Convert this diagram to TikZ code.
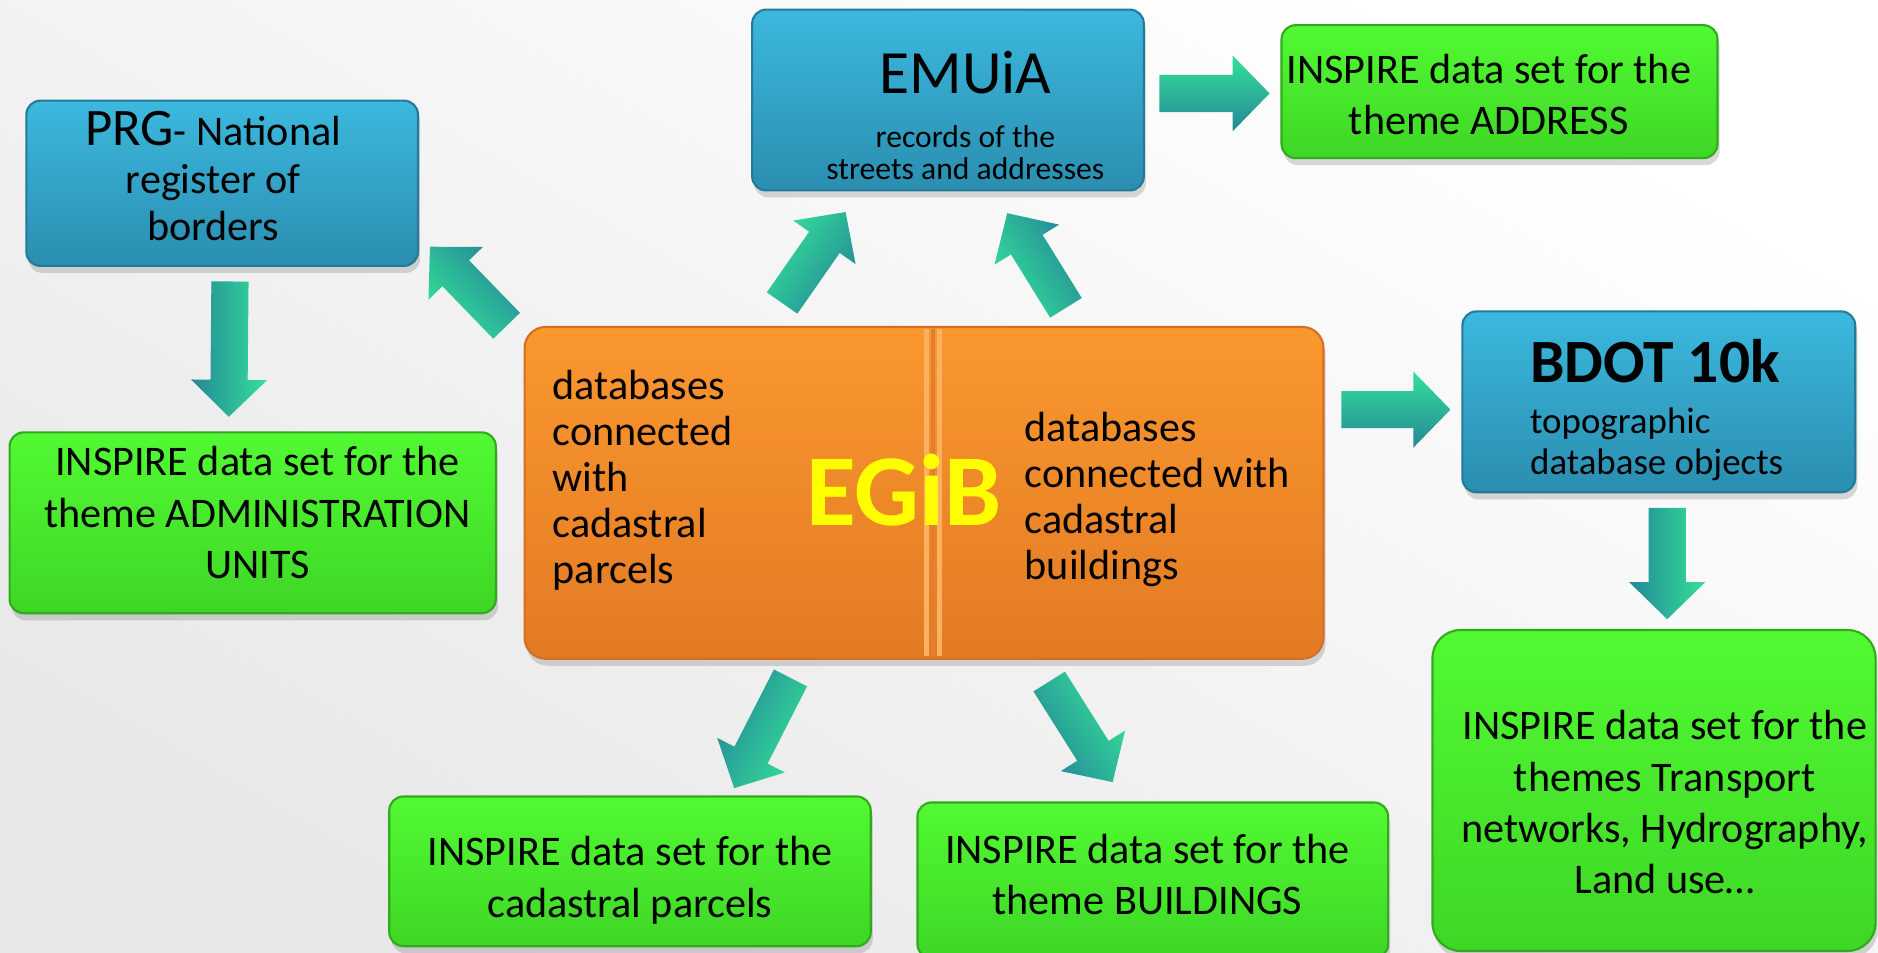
\documentclass[tikz,border=0pt]{standalone}
\usepackage{fontspec}
\setmainfont{Carlito}
\usetikzlibrary{calc,fit,shadows}

\definecolor{boxblue}{RGB}{60,184,222}
\definecolor{boxbluedark}{RGB}{42,142,176}
\definecolor{blueedge}{RGB}{36,122,152}
\definecolor{boxgreen}{RGB}{82,250,50}
\definecolor{boxgreendark}{RGB}{62,214,38}
\definecolor{greenedge}{RGB}{50,170,30}
\definecolor{boxorange}{RGB}{250,152,46}
\definecolor{boxorangedark}{RGB}{226,122,36}
\definecolor{orangeedge}{RGB}{214,110,34}
\definecolor{dividerlight}{RGB}{252,176,96}
\definecolor{dividerdark}{RGB}{222,128,44}
\definecolor{arrowlight}{RGB}{52,224,152}
\definecolor{arrowdark}{RGB}{36,136,152}
\definecolor{egibyellow}{RGB}{255,255,0}

\tikzset{
  panel/.style={rounded corners=4pt, inner sep=0pt, line width=0.6pt,
    drop shadow={shadow xshift=0.6pt, shadow yshift=-2pt, opacity=0.3}},
  bluebox/.style={panel, draw=blueedge, top color=boxblue, bottom color=boxbluedark},
  greenbox/.style={panel, draw=greenedge, top color=boxgreen, bottom color=boxgreendark},
  orangebox/.style={panel, rounded corners=6pt, draw=orangeedge, top color=boxorange, bottom color=boxorangedark},
  boxtext/.style={font=\fontsize{12}{14.6}\selectfont, align=center, inner sep=0pt},
  sidetext/.style={font=\fontsize{12}{13.1}\selectfont, align=left, inner sep=0pt, anchor=base west},
  arrowfill/.style={top color=arrowlight, bottom color=arrowdark},
}

% fat arrow: start, tip, direction of the arrow
\newcommand{\fatarrow}[3]{%
  \coordinate (neck) at ($(#2)!0.37cm!(#1)$);
  \path[arrowfill, shading angle=#3]
    ($(#1)!0.186cm!-90:(#2)$) -- ($(neck)!0.186cm!-90:(#2)$) -- ($(neck)!0.38cm!-90:(#2)$)
    -- (#2) -- ($(neck)!0.38cm!90:(#2)$) -- ($(neck)!0.186cm!90:(#2)$)
    -- ($(#1)!0.186cm!90:(#2)$) -- cycle;
}

\begin{document}
\begin{tikzpicture}[x=0.011977cm, y=-0.011977cm]
        \useasboundingbox (0,0) rectangle (1568,795);
        \fill[top color=white, bottom color=black!9, shading angle=-30] (0,0) rectangle (1568,795);

        % blue registers
        \node[bluebox, fit={(22,84) (349,222)}] (prg) {};
        \node[boxtext, font=\fontsize{12}{13.6}\selectfont] (prgtxt) at (178,147) {{\fontsize{15}{13.6}\selectfont PRG}- National\\register of\\borders};
        \node[bluebox, fit={(628,8) (955,159)}] (emuia) {};
        \node[anchor=base, inner sep=0pt, font=\fontsize{17.5}{20}\selectfont] (emuiatitle) at (806,78) {EMUiA};
        \node[anchor=base, inner sep=0pt, align=center, font=\fontsize{9}{9.2}\selectfont] (emuiatxt) at (806,150) {records of the\\streets and addresses};
        \node[bluebox, fit={(1221,260) (1549,411)}] (bdot) {};
        \node[anchor=base west, inner sep=0pt, font=\bfseries\fontsize{17.5}{20}\selectfont] (bdottitle) at (1277,319) {BDOT 10k};
        \node[anchor=base west, inner sep=0pt, align=left, font=\fontsize{10.5}{11.9}\selectfont] (bdottxt) at (1277,396.5) {topographic\\database objects};

        % EGiB in the middle
        \node[orangebox, fit={(438,273) (1105,550)}] (egib) {};
        \draw[line width=1.2pt, dividerlight] (773.5,275) -- (773.5,548);
        \draw[line width=1.2pt, dividerlight] (784.5,275) -- (784.5,548);
        \draw[line width=1.3pt, dividerdark] (779,275) -- (779,548);
        \node[sidetext] (parceltxt) at (461,487.5) {databases\\connected\\with\\cadastral\\parcels};
        \node[sidetext] (buildingtxt) at (855,484) {databases\\connected with\\cadastral\\buildings};
        \node[anchor=base, inner sep=0pt, text=egibyellow, font=\bfseries\fontsize{29}{30}\selectfont] (egibtxt) at (755,439) {EGiB};

        % INSPIRE data sets
        \node[greenbox, fit={(1070,21) (1434,132)}] (address) {};
        \node[boxtext] (addresstxt) at (1243,79) {INSPIRE data set for the\\theme ADDRESS};
        \node[greenbox, fit={(8,361) (414,512)}] (admin) {};
        \node[boxtext] (admintxt) at (215,428) {INSPIRE data set for the\\theme ADMINISTRATION\\UNITS};
        \node[greenbox, fit={(325,665) (727,790)}] (parcels) {};
        \node[boxtext] (parcelstxt) at (526,735) {INSPIRE data set for the\\cadastral parcels};
        \node[greenbox, fit={(766,670) (1159,800)}] (buildings) {};
        \node[boxtext] (buildingstxt) at (958,730) {INSPIRE data set for the\\theme BUILDINGS};
        \node[greenbox, rounded corners=8pt, fit={(1196,526) (1566,794)}] (themes) {};
        \node[boxtext] (themestxt) at (1390,670) {INSPIRE data set for the\\themes Transport\\networks, Hydrography,\\Land use…};

        % arrows
        \coordinate (a1) at (192,235);  \coordinate (b1) at (191,348);
        \coordinate (a2) at (423,272);  \coordinate (b2) at (359,206);
        \coordinate (a3) at (653,253);  \coordinate (b3) at (706,177);
        \coordinate (a4) at (890,257);  \coordinate (b4) at (841,178);
        \coordinate (a5) at (968,78);   \coordinate (b5) at (1060,78);
        \coordinate (a6) at (1120,342); \coordinate (b6) at (1211,342);
        \coordinate (a7) at (1392,424); \coordinate (b7) at (1392,517);
        \coordinate (a8) at (660,566);  \coordinate (b8) at (613,658);
        \coordinate (a9) at (876,569);  \coordinate (b9) at (929,653);
        \fatarrow{a1}{b1}{-90}
        \fatarrow{a2}{b2}{134}
        \fatarrow{a3}{b3}{55}
        \fatarrow{a4}{b4}{122}
        \fatarrow{a5}{b5}{0}
        \fatarrow{a6}{b6}{0}
        \fatarrow{a7}{b7}{-90}
        \fatarrow{a8}{b8}{-117}
        \fatarrow{a9}{b9}{-58}
\end{tikzpicture}
\end{document}
